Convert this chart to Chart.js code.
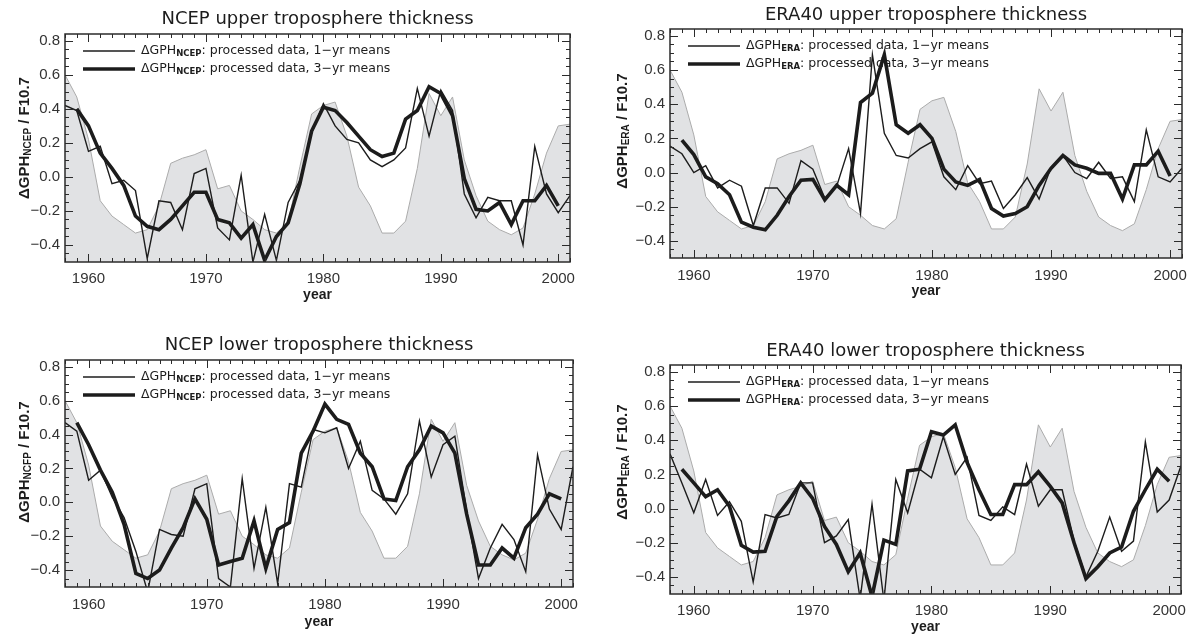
<!DOCTYPE html>
<html><head><meta charset="utf-8">
<script src="https://cdn.jsdelivr.net/npm/chart.js@4.4.1/dist/chart.umd.min.js"></script>
<style>
body{margin:0;background:#fff;width:1196px;height:638px;position:relative;overflow:hidden}
.cell{position:absolute}
canvas{display:block}
</style></head><body>
<div class="cell" id="w1"><canvas id="c1"></canvas></div>
<div class="cell" id="w2"><canvas id="c2"></canvas></div>
<div class="cell" id="w3"><canvas id="c3"></canvas></div>
<div class="cell" id="w4"><canvas id="c4"></canvas></div>
<script>
// ---------- data ----------
const years = [1958,1959,1960,1961,1962,1963,1964,1965,1966,1967,1968,1969,1970,1971,1972,1973,1974,1975,1976,1977,1978,1979,1980,1981,1982,1983,1984,1985,1986,1987,1988,1989,1990,1991,1992,1993,1994,1995,1996,1997,1998,1999,2000,2001];
const years3 = [1959,1960,1961,1962,1963,1964,1965,1966,1967,1968,1969,1970,1971,1972,1973,1974,1975,1976,1977,1978,1979,1980,1981,1982,1983,1984,1985,1986,1987,1988,1989,1990,1991,1992,1993,1994,1995,1996,1997,1998,1999,2000];

// scaled F10.7 solar flux (grey shading)
const solarFlux = [0.60,0.47,0.22,-0.14,-0.23,-0.28,-0.33,-0.31,-0.17,0.08,
  0.11,0.13,0.16,-0.07,-0.05,-0.20,-0.25,-0.31,-0.33,-0.27,
  0.06,0.37,0.42,0.44,0.24,-0.06,-0.17,-0.33,-0.33,-0.26,
  0.05,0.49,0.36,0.47,0.10,-0.11,-0.26,-0.31,-0.34,-0.30,
  -0.10,0.14,0.30,0.31];

const ncepUpper1yr = [0.42,0.39,0.15,0.18,-0.04,-0.02,-0.08,-0.48,-0.14,-0.15,
  -0.31,0.02,0.05,-0.30,-0.37,0.01,-0.50,-0.22,-0.49,-0.15,
  -0.02,0.26,0.43,0.30,0.22,0.20,0.10,0.06,0.10,0.17,
  0.52,0.24,0.51,0.39,-0.10,-0.24,-0.12,-0.14,-0.14,-0.40,
  0.18,-0.10,-0.21,-0.11];
const ncepUpper3yr = [0.40,0.30,0.14,0.05,-0.05,-0.23,-0.29,-0.31,-0.25,-0.17,
  -0.09,-0.09,-0.25,-0.27,-0.36,-0.28,-0.49,-0.35,-0.27,-0.04,
  0.27,0.41,0.39,0.32,0.24,0.16,0.12,0.14,0.34,0.39,
  0.53,0.49,0.36,-0.01,-0.19,-0.20,-0.15,-0.28,-0.14,-0.14,
  -0.05,-0.17];

const eraUpper1yr = [0.155,0.11,0.0,0.04,-0.09,-0.045,-0.08,-0.31,-0.09,-0.09,
  -0.18,0.07,0.02,-0.15,-0.08,0.14,-0.24,0.69,0.23,0.10,
  0.085,0.14,0.18,-0.025,-0.10,0.04,-0.065,-0.05,-0.21,-0.13,
  -0.03,-0.155,0.03,0.10,0.0,-0.035,0.06,-0.035,-0.025,-0.17,
  0.25,-0.025,-0.055,0.025];
const eraUpper3yr = [0.19,0.105,-0.025,-0.065,-0.13,-0.29,-0.32,-0.335,-0.25,-0.14,
  -0.045,-0.04,-0.16,-0.075,-0.13,0.41,0.465,0.69,0.28,0.23,
  0.28,0.20,0.02,-0.055,-0.075,-0.04,-0.21,-0.255,-0.24,-0.20,
  -0.075,0.025,0.10,0.045,0.025,-0.005,-0.005,-0.155,0.045,0.045,
  0.125,-0.02];

const ncepLower1yr = [0.47,0.42,0.13,0.19,0.03,-0.09,-0.29,-0.53,-0.16,-0.19,
  -0.20,0.08,0.11,-0.45,-0.50,0.14,-0.39,-0.03,-0.48,0.11,
  0.09,0.43,0.41,0.44,0.20,0.36,0.07,0.02,-0.07,0.05,
  0.48,0.15,0.34,0.39,-0.05,-0.45,-0.27,-0.13,-0.22,-0.41,
  0.28,-0.04,-0.16,0.21];
const ncepLower3yr = [0.47,0.34,0.19,0.06,-0.13,-0.42,-0.45,-0.40,-0.27,-0.15,
  0.02,-0.10,-0.37,-0.35,-0.33,-0.11,-0.39,-0.16,-0.12,0.29,
  0.42,0.58,0.49,0.46,0.29,0.21,0.02,0.01,0.21,0.31,
  0.45,0.41,0.29,-0.07,-0.37,-0.37,-0.27,-0.33,-0.15,-0.07,
  0.05,0.02];

const eraLower1yr = [0.32,0.15,-0.025,0.17,-0.04,0.04,-0.075,-0.43,-0.035,-0.055,
  -0.035,0.15,0.15,-0.20,-0.16,-0.065,-0.53,0.025,-0.54,0.17,
  -0.025,0.23,0.18,0.42,0.20,0.30,-0.04,-0.07,0.01,-0.035,
  0.26,0.014,0.11,0.11,-0.19,-0.40,-0.25,-0.05,-0.25,-0.19,
  0.39,-0.02,0.05,0.25];
const eraLower3yr = [0.23,0.15,0.07,0.11,0.014,-0.215,-0.255,-0.25,-0.045,0.045,
  0.15,0.06,-0.105,-0.21,-0.37,-0.26,-0.515,-0.185,-0.21,0.22,
  0.23,0.45,0.43,0.49,0.27,0.11,-0.035,-0.035,0.14,0.14,
  0.215,0.13,0.033,-0.20,-0.41,-0.34,-0.26,-0.225,-0.016,0.11,
  0.23,0.16];

const xTickYears = [1960,1970,1980,1990,2000];
const yTickValues = [-0.4,-0.2,0.0,0.2,0.4,0.6,0.8];
const panelTitles = ['NCEP upper troposphere thickness','ERA40 upper troposphere thickness','NCEP lower troposphere thickness','ERA40 lower troposphere thickness'];
const legendSubs = ['NCEP','ERA','NCEP','ERA'];
const yTitleSubs = ['NCEP','ERA','NCFP','ERA'];
const legendRest = [': processed data, 1\u2212yr means', ': processed data, 3\u2212yr means'];
const xTitle = 'year';

// ---------- layout / style ----------
const FT = '"DejaVu Sans", sans-serif';
const FL = '"Liberation Sans", Arial, sans-serif';
const INK = '#1c1c1c';
const layouts = [
  {left:0,   top:0,   w:590, h:310, pl:65, pt:34, pr:570, pb:262, titleC:19, yTx:25, yTc:138, lab:8, yr:33},
  {left:600, top:0,   w:596, h:310, pl:70, pt:29, pr:582, pb:258, titleC:15.5, yTx:23, yTc:131, lab:9, yr:33},
  {left:0,   top:320, w:590, h:318, pl:65, pt:40, pr:573, pb:267, titleC:25, yTx:25, yTc:142, lab:9, yr:35},
  {left:600, top:320, w:596, h:318, pl:70, pt:45, pr:581, pb:274, titleC:31, yTx:23, yTc:142, lab:8, yr:33}
];

function pts(xs, ys){ return xs.map((x,i)=>({x:x, y:ys[i]})); }

const frameTicks = {
  id:'frameTicks',
  afterDraw(chart){
    const {ctx, chartArea:a, scales:{x, y}} = chart;
    ctx.save();
    ctx.strokeStyle = '#2b2b2b';
    ctx.lineWidth = 1;
    ctx.beginPath();
    for (let yr = Math.ceil(x.min); yr <= Math.floor(x.max); yr++){
      const px = Math.round(x.getPixelForValue(yr)) + 0.5;
      const len = yr % 10 === 0 ? 8 : 4;
      ctx.moveTo(px, a.bottom); ctx.lineTo(px, a.bottom - len);
      ctx.moveTo(px, a.top); ctx.lineTo(px, a.top + len);
    }
    for (let i = Math.ceil(y.min/0.05 - 1e-6); i*0.05 <= y.max + 1e-6; i++){
      const py = Math.round(y.getPixelForValue(i*0.05)) + 0.5;
      if (py >= a.bottom - 1) continue;
      const len = i % 4 === 0 ? 8 : 4;
      ctx.moveTo(a.left, py); ctx.lineTo(a.left + len, py);
      ctx.moveTo(a.right, py); ctx.lineTo(a.right - len, py);
    }
    ctx.stroke();
    ctx.lineWidth = 1.5;
    ctx.strokeRect(a.left, a.top, a.right - a.left, a.bottom - a.top);
    ctx.restore();
  }
};

function richWidth(ctx, parts){
  let w = 0;
  for (const p of parts){ ctx.font = p.font; w += ctx.measureText(p.t).width; }
  return w;
}
function richDraw(ctx, parts, x, y){
  for (const p of parts){
    ctx.font = p.font;
    ctx.fillText(p.t, x, y + (p.dy || 0));
    x += ctx.measureText(p.t).width;
  }
}

const gphText = {
  id:'gphText',
  afterDraw(chart, args, opts){
    const {ctx, chartArea:a} = chart;
    ctx.save();
    ctx.fillStyle = INK;
    ctx.strokeStyle = INK;
    ctx.textBaseline = 'middle';
    ctx.textAlign = 'left';
    // legend
    const rows = [{lw:1.4, dy:17, rest:legendRest[0]}, {lw:3.6, dy:35, rest:legendRest[1]}];
    for (const r of rows){
      const yy = a.top + r.dy;
      ctx.lineWidth = r.lw;
      ctx.beginPath(); ctx.moveTo(a.left + 18, yy); ctx.lineTo(a.left + 70, yy); ctx.stroke();
      richDraw(ctx, [
        {t:'\u0394GPH', font:'12.5px ' + FT},
        {t:opts.sub, font:'bold 8.5px ' + FT, dy:2.5},
        {t:r.rest, font:'12.5px ' + FT}
      ], a.left + 76, yy);
    }
    // y axis title
    const parts = [
      {t:'\u0394GPH', font:'bold 15px ' + FL},
      {t:opts.ysub, font:'bold 10px ' + FL, dy:3},
      {t:' / F10.7', font:'bold 15px ' + FL}
    ];
    const tw = richWidth(ctx, parts);
    ctx.translate(opts.yTx, opts.yTc);
    ctx.rotate(-Math.PI/2);
    richDraw(ctx, parts, -tw/2, 0);
    ctx.restore();
  }
};

function fmtY(v){
  const s = Math.abs(v).toFixed(1);
  return (v < -1e-9 ? '\u2212' : '') + s;
}

const series = [
  [ncepUpper1yr, ncepUpper3yr],
  [eraUpper1yr, eraUpper3yr],
  [ncepLower1yr, ncepLower3yr],
  [eraLower1yr, eraLower3yr]
];

layouts.forEach((L, k) => {
  const wrap = document.getElementById('w' + (k+1));
  wrap.style.left = L.left + 'px'; wrap.style.top = L.top + 'px';
  wrap.style.width = L.w + 'px'; wrap.style.height = L.h + 'px';
  const cv = document.getElementById('c' + (k+1));
  cv.width = L.w; cv.height = L.h;
  const tFont = 18, tLH = tFont * 1.2;
  const tPadTop = L.titleC - tLH/2;
  const tPadBot = L.pt - tPadTop - tLH;
  const yrLH = 14 * 1.2;
  new Chart(cv, {
    type:'line',
    data:{
      datasets:[
        {label:'F10.7', data:pts(years, solarFlux), borderColor:'#ababab', borderWidth:1,
         backgroundColor:'#e1e2e4', fill:'start', pointRadius:0, tension:0, order:3},
        {label:'1-yr means', data:pts(years, series[k][0]), borderColor:INK, borderWidth:1.4,
         fill:false, pointRadius:0, tension:0, order:2, borderJoinStyle:'miter'},
        {label:'3-yr means', data:pts(years3, series[k][1]), borderColor:INK, borderWidth:3.6,
         fill:false, pointRadius:0, tension:0, order:1, borderJoinStyle:'miter'}
      ]
    },
    options:{
      responsive:false, animation:false, devicePixelRatio:1,
      events:[],
      layout:{padding:{left:0, top:0, bottom:0, right:L.w - L.pr}},
      plugins:{
        legend:{display:false}, tooltip:{enabled:false},
        title:{display:true, text:panelTitles[k], fullSize:false, color:INK,
          font:{family:FT, size:tFont, weight:'normal', lineHeight:1.2},
          padding:{top:tPadTop, bottom:tPadBot}},
        gphText:{sub:legendSubs[k], ysub:yTitleSubs[k], yTx:L.yTx, yTc:L.yTc}
      },
      scales:{
        x:{type:'linear', min:1958, max:2001, offset:false,
          grid:{display:false, drawTicks:false}, border:{display:false},
          afterBuildTicks:(s) => { s.ticks = xTickYears.map(v => ({value:v})); },
          afterFit:(s) => { s.height = L.h - L.pb; s.paddingLeft = 0; s.paddingRight = 0; },
          ticks:{color:'#333', font:{family:FL, size:15}, padding:L.lab, autoSkip:false, maxRotation:0,
            callback:(v) => String(v)},
          title:{display:true, text:xTitle, color:INK, font:{family:FL, size:14, weight:'bold', lineHeight:1.2},
            padding:{top:0, bottom:(L.h - L.pb - L.yr - yrLH/2)}}
        },
        y:{type:'linear', min:-0.5, max:0.84,
          grid:{display:false, drawTicks:false}, border:{display:false},
          afterBuildTicks:(s) => { s.ticks = yTickValues.map(v => ({value:v})); },
          afterFit:(s) => { s.width = L.pl; s.paddingTop = 0; s.paddingBottom = 0; },
          ticks:{color:'#333', font:{family:FL, size:15}, padding:5, autoSkip:false,
            callback:(v) => fmtY(v)}
        }
      }
    },
    plugins:[frameTicks, gphText]
  });
});
</script>
</body></html>
